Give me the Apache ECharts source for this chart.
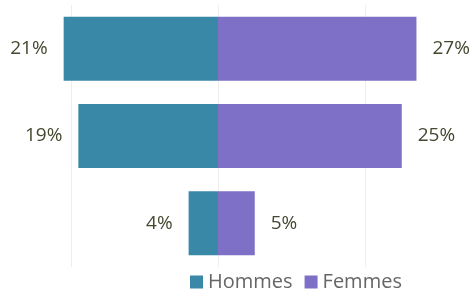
<!DOCTYPE html>
<html>
<head>
<meta charset="utf-8">
<script src="https://cdn.jsdelivr.net/npm/echarts@6/dist/echarts.min.js"></script>
<style>
  html, body { margin: 0; padding: 0; background: #fff; }
  #chart { width: 476px; height: 289px; }
</style>
</head>
<body>
<div id="chart"></div>
<script>
const categories = ['A', 'B', 'C'];
const hommes = [21, 19, 4];
const femmes = [27, 25, 5];

const chart = echarts.init(document.getElementById('chart'));

const labelStyle = {
    show: true,
    fontFamily: 'Open Sans',
    fontSize: 19,
    color: '#45472f',
    distance: 16,
    formatter: p => Math.abs(p.value) + '%'
};

const option = {
    animation: false,
    grid: { left: 71, right: 111, top: 5, bottom: 22 },
    legend: {
        data: ['Hommes', 'Femmes'],
        left: 185,
        top: 267,
        itemWidth: 13,
        itemHeight: 13,
        itemGap: 12,
        icon: 'rect',
        textStyle: { fontFamily: 'Open Sans', fontSize: 20, color: '#666666' }
    },
    xAxis: {
        type: 'value',
        min: -20,
        max: 20,
        interval: 20,
        axisLabel: { show: false },
        axisLine: { show: false },
        axisTick: { show: false },
        splitLine: { lineStyle: { color: '#eeeeee' } }
    },
    yAxis: {
        type: 'category',
        data: categories,
        inverse: true,
        axisLabel: { show: false },
        axisLine: { show: false },
        axisTick: { show: false }
    },
    series: [
        {
            name: 'Hommes',
            type: 'bar',
            stack: 'total',
            clip: false,
            barWidth: 64,
            data: hommes.map(v => -v),
            itemStyle: { color: '#3a88a8' },
            label: { ...labelStyle, position: 'left' }
        },
        {
            name: 'Femmes',
            type: 'bar',
            stack: 'total',
            clip: false,
            barWidth: 64,
            data: femmes,
            itemStyle: { color: '#7d70c6' },
            label: { ...labelStyle, position: 'right' }
        }
    ]
};

chart.setOption(option);
</script>
</body>
</html>
